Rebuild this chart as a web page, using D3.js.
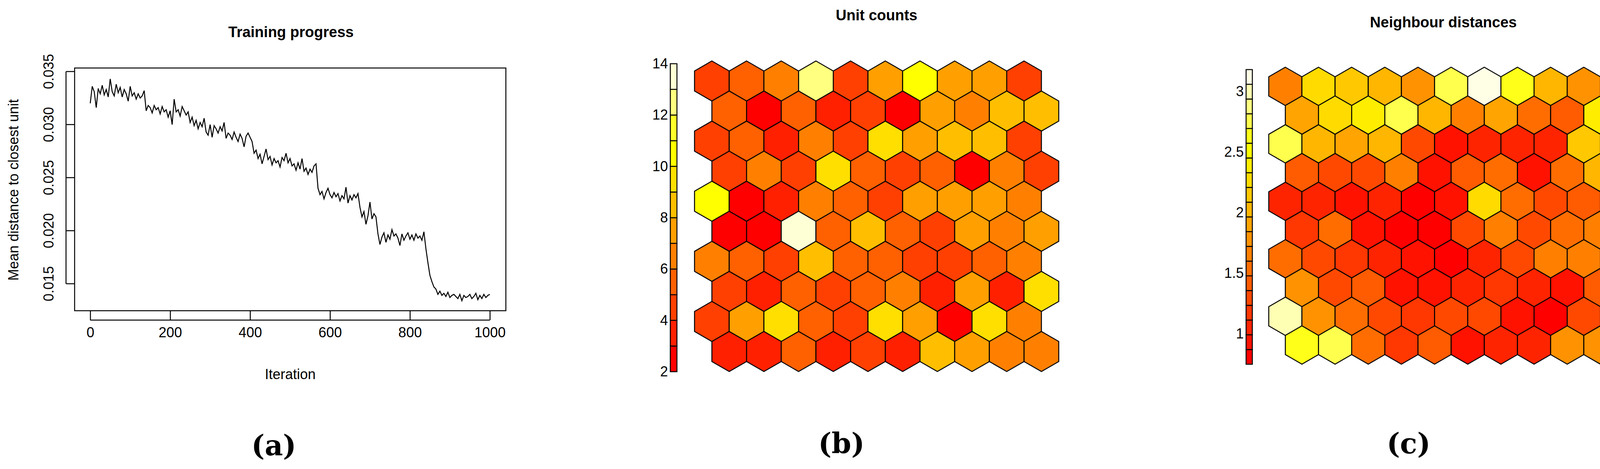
<!DOCTYPE html>
<html>
<head>
<meta charset="utf-8">
<script src="https://cdn.jsdelivr.net/npm/d3@7"></script>
<style>
  body { margin: 0; background: #fff; }
  text { font-family: "Liberation Sans", Arial, sans-serif; }
</style>
</head>
<body>
<svg id="fig" width="4167" height="1200"></svg>
<script>
// training progress, read every 5 iterations
var iterStep = 5;
var meanDist = [
  .0320,.0336,.0331,.0316,.0334,.0329,.0337,.0328,.0333,.0326,
  .0343,.0331,.0327,.0338,.0330,.0335,.0326,.0333,.0329,.0322,
  .0336,.0327,.0330,.0324,.0329,.0325,.0327,.0332,.0313,.0318,
  .0316,.0311,.0318,.0314,.0316,.0310,.0317,.0312,.0314,.0307,
  .0313,.0300,.0324,.0312,.0314,.0308,.0317,.0313,.0309,.0312,
  .0302,.0307,.0299,.0304,.0296,.0302,.0298,.0306,.0293,.0290,
  .0300,.0288,.0299,.0296,.0292,.0298,.0294,.0302,.0287,.0292,
  .0290,.0286,.0293,.0288,.0284,.0291,.0287,.0279,.0289,.0292,
  .0288,.0284,.0273,.0276,.0268,.0272,.0263,.0270,.0277,.0267,
  .0270,.0262,.0268,.0264,.0266,.0260,.0269,.0266,.0273,.0264,
  .0268,.0261,.0263,.0257,.0264,.0258,.0268,.0256,.0259,.0253,
  .0258,.0255,.0261,.0263,.0240,.0234,.0237,.0230,.0236,.0240,
  .0234,.0231,.0236,.0232,.0235,.0228,.0233,.0230,.0241,.0226,
  .0233,.0229,.0234,.0231,.0235,.0222,.0213,.0218,.0206,.0214,
  .0227,.0211,.0216,.0213,.0197,.0187,.0194,.0198,.0189,.0196,
  .0192,.0201,.0195,.0197,.0193,.0186,.0197,.0191,.0195,.0198,
  .0192,.0196,.0191,.0197,.0193,.0195,.0191,.0199,.0183,.0170,
  .0158,.0152,.0147,.0145,.0140,.0143,.0139,.0141,.0138,.0142,
  .0137,.0139,.0140,.0138,.0136,.0140,.0134,.0139,.0137,.0138,
  .0140,.0136,.0138,.0141,.0135,.0139,.0136,.0140,.0137,.0139,
  .0140
];
var xTicks = [0, 200, 400, 600, 800, 1000];
var yTicks = [0.015, 0.020, 0.025, 0.030, 0.035];

// unit counts, 10x10 hex grid, rows top to bottom
var unitCounts = [
  [4, 5, 6, 12, 4, 7, 10, 7, 7, 4],
  [5, 2, 5, 3, 4, 2, 7, 6, 8, 8],
  [4, 5, 3, 6, 4, 9, 7, 8, 8, 4],
  [4, 6, 4, 9, 5, 4, 5, 2, 6, 4],
  [10, 2, 3, 6, 5, 4, 7, 7, 7, 6],
  [2, 2, 13, 5, 8, 5, 4, 7, 6, 7],
  [6, 5, 4, 8, 5, 5, 4, 4, 5, 6],
  [4, 3, 5, 4, 5, 6, 3, 7, 3, 9],
  [4, 7, 9, 5, 4, 9, 7, 2, 9, 6],
  [3, 3, 5, 3, 4, 3, 8, 7, 6, 6]
];
var countTicks = [2, 4, 6, 8, 10, 12, 14];

// neighbour distances
var neighDist = [
  [1.66, 2.27, 2.15, 2.03, 1.78, 2.76, 3.12, 2.63, 2.03, 1.78],
  [1.90, 2.27, 2.39, 2.76, 2.03, 1.66, 1.90, 1.54, 1.42, 2.39],
  [2.76, 2.03, 1.90, 2.03, 1.30, 0.93, 1.05, 1.05, 1.05, 2.15],
  [1.42, 1.30, 1.30, 1.66, 0.93, 1.42, 1.54, 0.93, 1.54, 2.03],
  [1.05, 1.05, 0.93, 1.05, 0.81, 0.93, 2.27, 1.54, 1.30, 1.42],
  [1.18, 1.54, 0.93, 0.81, 0.81, 1.30, 1.66, 1.30, 1.54, 1.66],
  [1.54, 1.30, 1.18, 1.05, 0.93, 0.81, 1.05, 1.30, 1.66, 1.66],
  [1.78, 1.30, 1.42, 0.93, 0.93, 1.05, 1.18, 1.05, 0.93, 1.42],
  [3.00, 1.78, 1.54, 1.30, 1.18, 1.30, 1.30, 0.93, 0.81, 1.30],
  [2.63, 2.76, 1.54, 1.18, 1.42, 0.93, 1.05, 1.05, 1.78, 1.78]
];
var distTicks = [1, 1.5, 2, 2.5, 3];

// R's heat.colors(n)
function heatColors(n) {
  var j = Math.floor(n / 4), i = n - j, out = [];
  for (var k = 0; k < i; k++) out.push(d3.hsl(60 * k / (i - 1), 1, 0.5).formatHex());
  for (var k = 0; k < j; k++) {
    var s = j == 1 ? 0.5 : (1 - 1 / (2 * j)) + ((1 / (2 * j)) - (1 - 1 / (2 * j))) * k / (j - 1);
    out.push(d3.rgb(255, 255, Math.round(255 * (1 - s))).formatHex());
  }
  return out;
}

var svg = d3.select('#fig');
var serif = '"DejaVu Serif", "Liberation Serif", serif';

function label(x, y, txt, size, weight, family) {
  return svg.append('text').attr('x', x).attr('y', y)
    .attr('text-anchor', 'middle')
    .style('font-size', size + 'px')
    .style('font-weight', weight || 'normal')
    .style('font-family', family || null)
    .text(txt);
}

// ---- panel (a) ----
var ax = d3.scaleLinear().domain([0, 1000]).range([231, 1254]);
var ay = d3.scaleLinear().domain([0.015, 0.035]).range([726, 183]);
var gA = svg.append('g');
gA.append('rect').attr('x', 191).attr('y', 174).attr('width', 1104).attr('height', 621)
  .attr('fill', 'none').attr('stroke', '#000').attr('stroke-width', 2.5);
gA.append('path')
  .datum(meanDist)
  .attr('fill', 'none').attr('stroke', '#000').attr('stroke-width', 2.5)
  .attr('d', d3.line().x(function(d, i) { return ax(i * iterStep); }).y(function(d) { return ay(d); }));

var xAxis = gA.append('g').attr('transform', 'translate(0,795)')
  .call(d3.axisBottom(ax).tickValues(xTicks).tickSize(24).tickPadding(18).tickFormat(d3.format('d')));
var yAxis = gA.append('g').attr('transform', 'translate(191,0)')
  .call(d3.axisLeft(ay).tickValues(yTicks).tickSize(22).tickPadding(14).tickFormat(d3.format('.3f')));
[xAxis, yAxis].forEach(function(a) {
  a.select('.domain').remove();
  a.selectAll('line').attr('stroke-width', 2.5);
  a.selectAll('text').style('font-size', '36px').style('font-family', '"Liberation Sans", Arial, sans-serif');
});
// R style axis lines from first to last tick
xAxis.append('line').attr('x1', ax(0)).attr('x2', ax(1000)).attr('y1', 24).attr('y2', 24)
  .attr('stroke', '#000').attr('stroke-width', 2.5);
yAxis.append('line').attr('y1', ay(0.015)).attr('y2', ay(0.035)).attr('x1', -22).attr('x2', -22)
  .attr('stroke', '#000').attr('stroke-width', 2.5);
yAxis.selectAll('.tick text')
  .attr('text-anchor', 'middle')
  .attr('transform', function(d) { return 'translate(-67,' + ay(d) + ') rotate(-90)'; })
  .attr('x', 0).attr('y', 0).attr('dy', '0.35em');
yAxis.selectAll('.tick').attr('transform', null);
yAxis.selectAll('.tick line').attr('transform', function(d) { return 'translate(0,' + ay(d) + ')'; });

label(745, 95, 'Training progress', 38, 'bold');
label(743, 970, 'Iteration', 36);
svg.append('text').attr('transform', 'translate(47,486) rotate(-90)')
  .attr('text-anchor', 'middle').style('font-size', '36px').text('Mean distance to closest unit');
label(701, 1165, '(a)', 72, 'bold', serif);

// ---- hex panels ----
function hexPanel(opts) {
  var g = svg.append('g');
  var w = opts.hexW, r = w / Math.sqrt(3);
  var hx = d3.scaleLinear().domain([0, 1]).range([opts.left + w / 2, opts.left + w * 1.5]);
  var hy = d3.scaleLinear().domain([0, 1]).range([opts.top + r, opts.top + r * 2.5]);
  var colors = heatColors(opts.nColors);
  var q = d3.scaleQuantize().domain(opts.domain).range(colors);
  var pts = d3.range(6).map(function(k) {
    var a = Math.PI / 180 * (60 * k - 90);
    return [r * Math.cos(a), r * Math.sin(a)];
  });
  var cells = [];
  opts.values.forEach(function(row, ri) {
    row.forEach(function(v, ci) { cells.push({ r: ri, c: ci, v: v }); });
  });
  g.selectAll('path.hex').data(cells).enter().append('path')
    .attr('class', 'hex')
    .attr('transform', function(d) { return 'translate(' + hx(d.c + (d.r % 2 ? 0.5 : 0)) + ',' + hy(d.r) + ')'; })
    .attr('d', 'M' + pts.join('L') + 'Z')
    .attr('fill', function(d) { return q(d.v); })
    .attr('stroke', '#000').attr('stroke-width', 2.5);

  // colour key
  var ky = d3.scaleLinear().domain(opts.domain).range([opts.keyBottom, opts.keyTop]);
  var step = (opts.domain[1] - opts.domain[0]) / opts.nColors;
  g.selectAll('rect.key').data(colors).enter().append('rect')
    .attr('x', opts.keyX).attr('width', opts.keyW)
    .attr('y', function(d, i) { return ky(opts.domain[0] + (i + 1) * step); })
    .attr('height', function() { return ky(opts.domain[0]) - ky(opts.domain[0] + step); })
    .attr('fill', function(d) { return d; })
    .attr('stroke', '#000').attr('stroke-width', 2.5);
  var ka = g.append('g').attr('transform', 'translate(' + opts.keyX + ',0)')
    .call(d3.axisLeft(ky).tickValues(opts.ticks).tickSize(0).tickPadding(6).tickFormat(String));
  ka.select('.domain').remove();
  ka.selectAll('text').style('font-size', '36px').style('font-family', '"Liberation Sans", Arial, sans-serif');
}

hexPanel({
  values: unitCounts, domain: [2, 14], nColors: 12, ticks: countTicks,
  left: 1778, top: 156, hexW: 88.8,
  keyX: 1716, keyW: 17, keyTop: 163, keyBottom: 951
});
label(2244, 52, 'Unit counts', 38, 'bold');
label(2154, 1160, '(b)', 72, 'bold', serif);

hexPanel({
  values: neighDist, domain: [0.75, 3.18], nColors: 20, ticks: distTicks,
  left: 3248, top: 172, hexW: 84.9,
  keyX: 3190, keyW: 16, keyTop: 178, keyBottom: 932
});
label(3695, 70, 'Neighbour distances', 38, 'bold');
label(3606, 1160, '(c)', 72, 'bold', serif);
</script>
</body>
</html>
